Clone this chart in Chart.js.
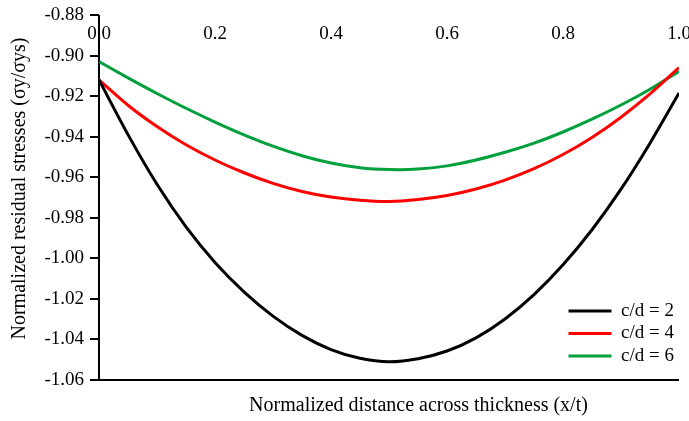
<!DOCTYPE html>
<html>
<head>
<meta charset="utf-8">
<script src="https://cdn.jsdelivr.net/npm/chart.js@4/dist/chart.umd.min.js"></script>
<style>
  html, body { margin: 0; padding: 0; background: #fff; }
  #wrap { width: 689px; height: 421px; }
</style>
</head>
<body>
<div id="wrap"><canvas id="chart" width="689" height="421"></canvas></div>
<script>
// x/t positions
var xValues = [0, 0.05, 0.1, 0.15, 0.2, 0.25, 0.3, 0.35, 0.4, 0.45, 0.5,
  0.55, 0.6, 0.65, 0.7, 0.75, 0.8, 0.85, 0.9, 0.95, 1.0];

// normalized residual stress
var cd2 = [-0.912, -0.939, -0.9635, -0.9845, -1.002, -1.0165, -1.0285, -1.038, -1.045, -1.0493, -1.051,
  -1.0495, -1.0457, -1.0392, -1.0299, -1.0179, -1.0032, -0.9859, -0.9659, -0.9432, -0.9185];
var cd4 = [-0.912, -0.9245, -0.935, -0.944, -0.9515, -0.9578, -0.963, -0.967, -0.9698, -0.9714, -0.972,
  -0.971, -0.969, -0.9658, -0.9614, -0.9558, -0.9488, -0.9404, -0.9304, -0.9189, -0.9059];
var cd6 = [-0.903, -0.911, -0.9187, -0.926, -0.9328, -0.9391, -0.9447, -0.9494, -0.953, -0.9553, -0.9562,
  -0.956, -0.9544, -0.9515, -0.9477, -0.9432, -0.9377, -0.9314, -0.9244, -0.9166, -0.9078];

var seriesLabels = ["c/d = 2", "c/d = 4", "c/d = 6"];
var seriesColors = ["#000000", "#ff0000", "#00a03c"];

var yMin = -1.06, yMax = -0.88, yStep = 0.02;
var xMin = 0, xMax = 1, xStep = 0.2;

var serif = "'Liberation Serif', 'Times New Roman', serif";

function pts(ys) {
  return xValues.map(function (x, i) { return { x: x, y: ys[i] }; });
}

var datasets = [cd2, cd4, cd6].map(function (ys, i) {
  return {
    label: seriesLabels[i],
    data: pts(ys),
    borderColor: seriesColors[i],
    backgroundColor: seriesColors[i],
    borderWidth: 3,
    pointRadius: 0,
    pointBorderWidth: 3,
    tension: 0.3,
    fill: false
  };
});

// nudge legend into the lower right corner, and the axis titles off centre
var legendSpot = {
  id: "legendSpot",
  afterLayout: function (chart) {
    var lg = chart.legend;
    var a = chart.chartArea;
    var w = lg.width;
    lg.left = a.right - 114;
    lg.right = lg.left + w;
    lg.top += 4;
    lg.bottom += 4;
    var t = chart.scales.xt;
    t.left += 59;
    var y = chart.scales.y;
    y.top -= 9;
    y.bottom -= 9;
  }
};

function noPad(s) {
  s.paddingLeft = 0; s.paddingRight = 0; s.paddingTop = 0; s.paddingBottom = 0;
}

var ctx = document.getElementById("chart").getContext("2d");
var chart = new Chart(ctx, {
  type: "line",
  data: { datasets: datasets },
  plugins: [legendSpot],
  options: {
    responsive: false,
    animation: false,
    devicePixelRatio: 1,
    layout: { padding: { left: 0, right: 10, top: 0, bottom: 0 } },
    plugins: {
      tooltip: { enabled: false },
      legend: {
        position: "chartArea",
        align: "end",
        labels: {
          usePointStyle: true,
          pointStyle: "line",
          pointStyleWidth: 43,
          padding: 3.5,
          color: "#000",
          font: { family: serif, size: 19 }
        }
      }
    },
    scales: {
      x: {
        type: "linear",
        position: "top",
        min: xMin,
        max: xMax,
        // only the x = 0 line is kept: it is the vertical axis line
        grid: {
          display: true,
          drawTicks: false,
          drawOnChartArea: true,
          lineWidth: 2,
          color: function (c) { return c.index === 0 ? "#000" : "rgba(0,0,0,0)"; }
        },
        border: { display: false },
        ticks: {
          stepSize: xStep,
          mirror: true,
          padding: 7.5,
          color: "#000",
          font: { family: serif, size: 19 },
          callback: function (v) { return v.toFixed(1); }
        },
        afterFit: function (s) { s.height = 15; noPad(s); }
      },
      xt: {
        type: "linear",
        position: "bottom",
        min: xMin,
        max: xMax,
        grid: { display: false, drawTicks: false },
        border: { display: false },
        ticks: { display: false },
        title: {
          display: true,
          text: "Normalized distance across thickness (x/t)",
          color: "#000",
          font: { family: serif, size: 20 },
          padding: { top: 0, bottom: 3 }
        },
        afterFit: function (s) { s.height = 41; noPad(s); }
      },
      y: {
        type: "linear",
        position: "left",
        min: yMin,
        max: yMax,
        grid: {
          drawOnChartArea: true,
          color: function (c) { return c.index === 0 ? "#000" : "rgba(0,0,0,0)"; },
          tickColor: "#000",
          lineWidth: 2,
          tickLength: 9
        },
        border: { display: false },
        ticks: {
          stepSize: yStep,
          padding: 6,
          color: "#000",
          font: { family: serif, size: 19 },
          callback: function (v) { return v.toFixed(2); }
        },
        title: {
          display: true,
          text: "Normalized residual stresses (σy/σys)",
          color: "#000",
          font: { family: serif, size: 20 },
          padding: { top: 8, bottom: 0 }
        },
        afterFit: function (s) { s.width = 99; noPad(s); }
      }
    }
  }
});
</script>
</body>
</html>
